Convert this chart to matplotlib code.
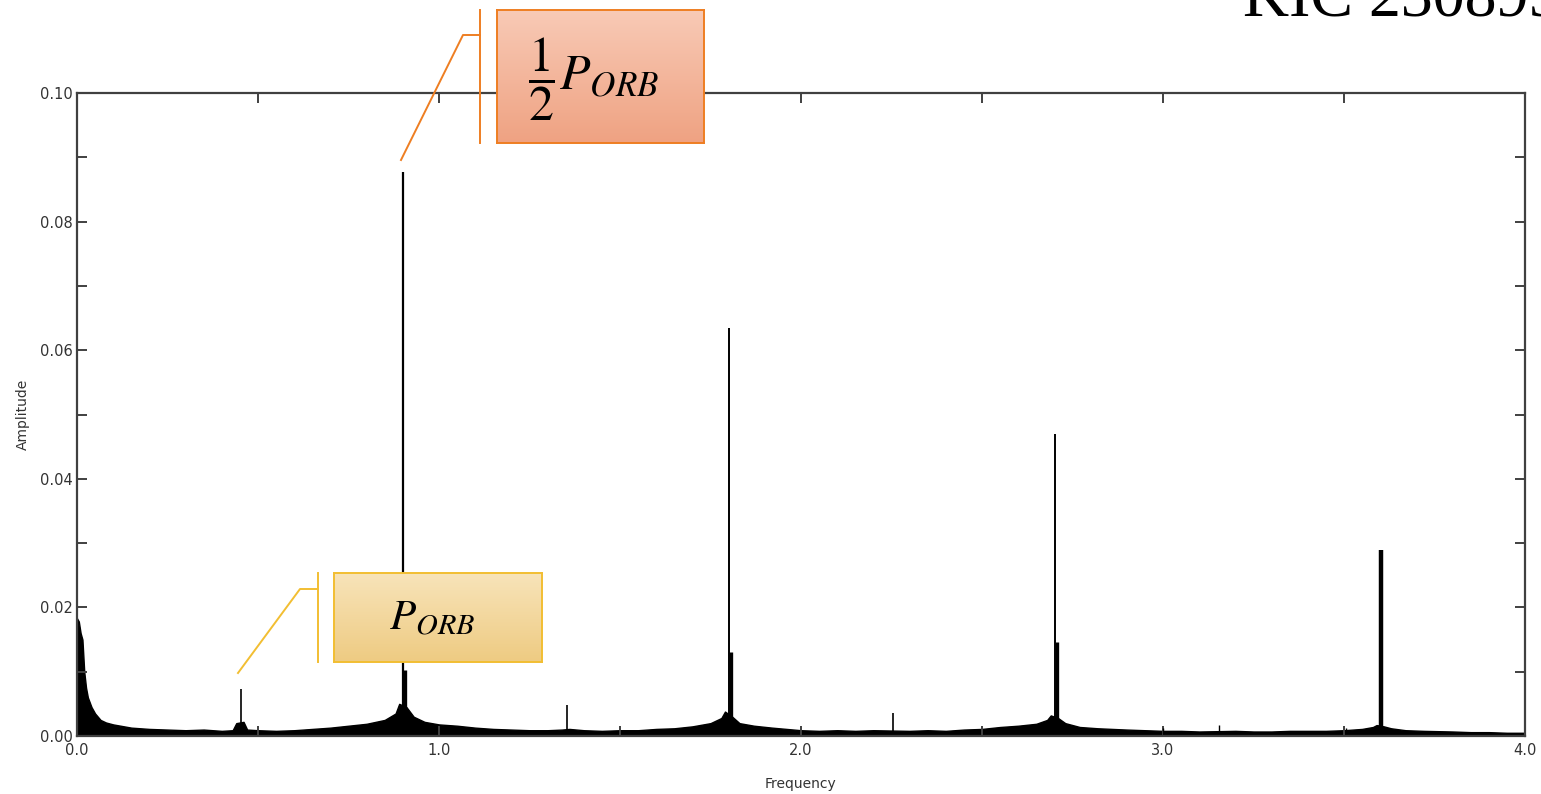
import matplotlib
matplotlib.use("Agg")
import matplotlib.pyplot as plt
import numpy as np
from matplotlib.colors import LinearSegmentedColormap
from matplotlib.lines import Line2D
from matplotlib.ticker import MultipleLocator, FormatStrFormatter

plt.rcParams['mathtext.fontset'] = 'stix'

# ---- data ----
peak_freq = [0.453, 0.900, 0.905, 1.354, 1.801, 1.806, 2.254, 2.703, 2.708, 3.000, 3.155, 3.506, 3.602]
peak_amp = [0.0073, 0.0877, 0.0103, 0.0048, 0.0635, 0.0131, 0.0036, 0.0470, 0.0146, 0.0013, 0.0017, 0.0012, 0.0289]
peak_width = [1.2, 1.6, 2.4, 1.2, 1.4, 2.4, 1.2, 1.4, 2.4, 1.0, 1.0, 1.0, 3.2]

noise_freq = [0.000, 0.005, 0.010, 0.015, 0.020, 0.025, 0.030, 0.040, 0.050, 0.065, 0.080,
              0.100, 0.120, 0.150, 0.200, 0.250, 0.300, 0.350, 0.400, 0.430, 0.440, 0.460,
              0.470, 0.500, 0.550, 0.600, 0.650, 0.700, 0.750, 0.800, 0.850, 0.880, 0.890,
              0.910, 0.930, 0.960, 1.000, 1.050, 1.100, 1.150, 1.200, 1.250, 1.300, 1.340,
              1.360, 1.400, 1.450, 1.500, 1.550, 1.600, 1.650, 1.700, 1.750, 1.780, 1.790,
              1.810, 1.830, 1.870, 1.920, 2.000, 2.050, 2.100, 2.150, 2.200, 2.300, 2.350,
              2.400, 2.450, 2.500, 2.550, 2.600, 2.650, 2.680, 2.690, 2.710, 2.730, 2.770,
              2.820, 2.900, 2.950, 3.000, 3.050, 3.100, 3.200, 3.250, 3.300, 3.350, 3.400,
              3.450, 3.500, 3.550, 3.580, 3.590, 3.610, 3.630, 3.670, 3.720, 3.800, 3.850,
              3.900, 3.950, 4.000]
noise_amp = [0.0183, 0.0178, 0.0160, 0.0150, 0.0100, 0.0075, 0.0060, 0.0045, 0.0035, 0.0025, 0.0021,
             0.0018, 0.0016, 0.0013, 0.0011, 0.0010, 0.0009, 0.0010, 0.0008, 0.0009, 0.0020, 0.0022,
             0.0010, 0.0009, 0.0008, 0.0009, 0.0011, 0.0013, 0.0016, 0.0019, 0.0025, 0.0035, 0.0050,
             0.0045, 0.0030, 0.0022, 0.0018, 0.0016, 0.0013, 0.0011, 0.0010, 0.0009, 0.0009, 0.0010,
             0.0011, 0.0009, 0.0008, 0.0009, 0.0009, 0.0011, 0.0012, 0.0015, 0.0020, 0.0028, 0.0038,
             0.0030, 0.0020, 0.0016, 0.0013, 0.0009, 0.0008, 0.0009, 0.0008, 0.0009, 0.0008, 0.0009,
             0.0008, 0.0010, 0.0011, 0.0014, 0.0016, 0.0019, 0.0025, 0.0032, 0.0028, 0.0020, 0.0014,
             0.0012, 0.0010, 0.0009, 0.0008, 0.0008, 0.0007, 0.0008, 0.0007, 0.0007, 0.0008, 0.0008,
             0.0008, 0.0009, 0.0011, 0.0014, 0.0017, 0.0015, 0.0012, 0.0009, 0.0008, 0.0007, 0.0006,
             0.0006, 0.0005, 0.0005]

x_ticks = [0.0, 1.0, 2.0, 3.0, 4.0]
x_tick_labels = ["0.0", "1.0", "2.0", "3.0", "4.0"]

W, H = 1541, 794
fig = plt.figure(figsize=(W / 100, H / 100), dpi=100)
fig.patch.set_facecolor('white')


def fx(x):
    return x / W


def fy(y):
    return 1 - y / H


ax = fig.add_axes([fx(77), fy(736), fx(1525) - fx(77), fy(93) - fy(736)])
ax.fill_between(noise_freq, 0, noise_amp, color='black', linewidth=1.0, edgecolor='black')
ax.vlines(peak_freq, 0, peak_amp, colors='black', linewidths=peak_width)

ax.set_xlim(0, 4.0)
ax.set_ylim(0, 0.10)
ax.set_xticks(x_ticks)
ax.set_xticklabels(x_tick_labels)
ax.xaxis.set_minor_locator(MultipleLocator(0.5))
ax.yaxis.set_major_locator(MultipleLocator(0.02))
ax.yaxis.set_minor_locator(MultipleLocator(0.01))
ax.yaxis.set_major_formatter(FormatStrFormatter('%.2f'))
spine_c = '#404040'
for s in ax.spines.values():
    s.set_color(spine_c)
    s.set_linewidth(1.6)
ax.tick_params(which='both', direction='in', top=True, right=True, length=7, width=1.4,
               color=spine_c, labelsize=10.5, labelcolor='#333333')
ax.tick_params(axis='x', pad=5)
ax.tick_params(axis='y', pad=3)
ax.set_xlabel('Frequency', fontsize=10, color='#333333', labelpad=14)
ax.set_ylabel('Amplitude', fontsize=10, color='#333333', labelpad=7)


def gradient_box(x0, y0, x1, y1, c_top, c_bot, edge):
    bax = fig.add_axes([fx(x0), fy(y1), fx(x1) - fx(x0), fy(y0) - fy(y1)])
    cmap = LinearSegmentedColormap.from_list('g', [c_top, c_bot])
    grad = np.linspace(0, 1, 256).reshape(-1, 1)
    bax.imshow(grad, cmap=cmap, aspect='auto', extent=[0, 1, 0, 1], origin='upper')
    bax.set_xlim(0, 1)
    bax.set_ylim(0, 1)
    bax.set_xticks([])
    bax.set_yticks([])
    for s in bax.spines.values():
        s.set_color(edge)
        s.set_linewidth(1.4)
    return bax


orange = '#EE7E22'
gold = '#F2BE32'

b1 = gradient_box(497, 10, 704, 143, '#F8CAB6', '#EFA282', orange)
b1.text(0.15, 0.48, r'$\dfrac{1}{2}P_{ORB}$', fontsize=36, ha='left', va='center', color='black')
b2 = gradient_box(334, 573, 542, 662, '#F8E4BA', '#EECB82', gold)
b2.text(0.47, 0.5, r'$P_{ORB}$', fontsize=31, ha='center', va='center', color='black')

# connector lines
for pts, col in [([(480, 10), (480, 143)], orange),
                 ([(480, 35), (463, 35), (401, 160)], orange),
                 ([(318, 573), (318, 662)], gold),
                 ([(318, 589), (300, 589), (238, 673)], gold)]:
    xs = [fx(p[0]) for p in pts]
    ys = [fy(p[1]) for p in pts]
    fig.add_artist(Line2D(xs, ys, transform=fig.transFigure, color=col, linewidth=1.4))

fig.text(fx(1243), fy(16), 'KIC 2308957', fontsize=46, family='Liberation Serif',
         ha='left', va='baseline', color='black')

fig.savefig('out.png', dpi=100)
